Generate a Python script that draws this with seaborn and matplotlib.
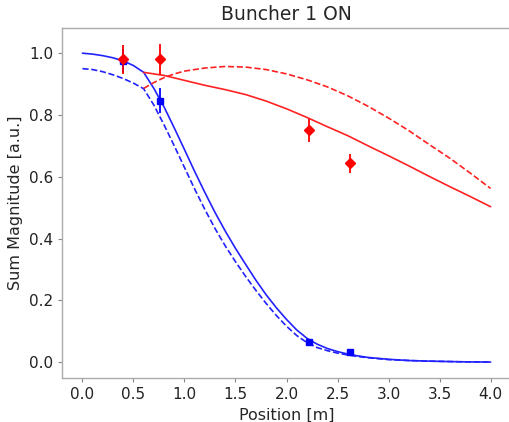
import numpy as np
import pandas as pd
import matplotlib
matplotlib.use("Agg")
import matplotlib.pyplot as plt
import seaborn as sns

# simulated curves
blue_x = [0.0, 0.1, 0.2, 0.3, 0.4, 0.5, 0.6, 0.7, 0.8, 0.9, 1.0, 1.1, 1.2, 1.3, 1.4,
          1.5, 1.6, 1.7, 1.8, 1.9, 2.0, 2.1, 2.2, 2.3, 2.4, 2.5, 2.6, 2.7, 2.8, 3.0,
          3.2, 3.4, 3.7, 4.0]
blue_solid = [1.000, 0.997, 0.992, 0.985, 0.975, 0.960, 0.938, 0.886, 0.826, 0.758,
              0.688, 0.617, 0.549, 0.484, 0.424, 0.368, 0.316, 0.265, 0.218, 0.176,
              0.138, 0.104, 0.077, 0.058, 0.044, 0.034, 0.026, 0.020, 0.015, 0.009,
              0.005, 0.003, 0.001, 0.000]
blue_dashed = [0.950, 0.947, 0.940, 0.930, 0.918, 0.903, 0.885, 0.832, 0.768, 0.700,
               0.630, 0.560, 0.494, 0.432, 0.376, 0.325, 0.277, 0.232, 0.190, 0.151,
               0.116, 0.086, 0.063, 0.047, 0.037, 0.029, 0.023, 0.018, 0.014, 0.008,
               0.005, 0.003, 0.001, 0.000]

red_x = [0.6, 0.7, 0.8, 0.9, 1.0, 1.2, 1.4, 1.6, 1.8, 2.0, 2.2, 2.4, 2.6, 2.8, 3.0,
         3.2, 3.4, 3.6, 3.8, 4.0]
red_solid = [0.938, 0.933, 0.928, 0.920, 0.912, 0.896, 0.882, 0.866, 0.845, 0.820,
             0.792, 0.762, 0.733, 0.700, 0.668, 0.635, 0.601, 0.568, 0.536, 0.503]
red_dashed = [0.886, 0.905, 0.921, 0.933, 0.942, 0.952, 0.957, 0.955, 0.947, 0.933,
              0.914, 0.891, 0.862, 0.828, 0.790, 0.749, 0.704, 0.660, 0.612, 0.562]

# measurements
meas_x = [0.4, 0.76, 2.22, 2.62]
red_y = [0.980, 0.980, 0.750, 0.643]
red_err = [0.048, 0.050, 0.038, 0.032]
blue_y = [0.975, 0.846, 0.064, 0.034]
blue_err = [0.040, 0.040, 0.005, 0.004]

sns.set_theme(style="white")
plt.rcParams['font.family'] = ['DejaVu Sans']

fig, ax = plt.subplots(figsize=(5.10, 4.22), dpi=100)
fig.subplots_adjust(left=0.1216, right=1.002, top=0.9336, bottom=0.1043)

sns.lineplot(x=blue_x, y=blue_solid, ax=ax, color='#2222ff', lw=1.2)
sns.lineplot(x=blue_x, y=blue_dashed, ax=ax, color='#2222ff', lw=1.2, linestyle='--')
sns.lineplot(x=red_x, y=red_solid, ax=ax, color='#ff2222', lw=1.2)
sns.lineplot(x=red_x, y=red_dashed, ax=ax, color='#ff2222', lw=1.2, linestyle='--')

ax.errorbar(meas_x, blue_y, yerr=blue_err, fmt='s', color='blue', ms=5, elinewidth=1.3)
ax.errorbar(meas_x, red_y, yerr=red_err, fmt='D', color='red', ms=5, elinewidth=1.3)

ax.set_title('Buncher 1 ON', fontsize=13.5)
ax.set_xlabel('Position [m]', fontsize=11.5)
ax.set_ylabel('Sum Magnitude [a.u.]', fontsize=11.5)
ax.set_xticks(np.arange(0, 4.01, 0.5))
ax.set_yticks(np.arange(0, 1.01, 0.2))
ax.tick_params(labelsize=11, length=3, width=0.8, bottom=True, left=True,
               colors='#222222')
ax.tick_params(color='#888888')
for s in ax.spines.values():
    s.set_color('#aaaaaa')
    s.set_linewidth(1.0)

fig.savefig('out.png', dpi=100)
